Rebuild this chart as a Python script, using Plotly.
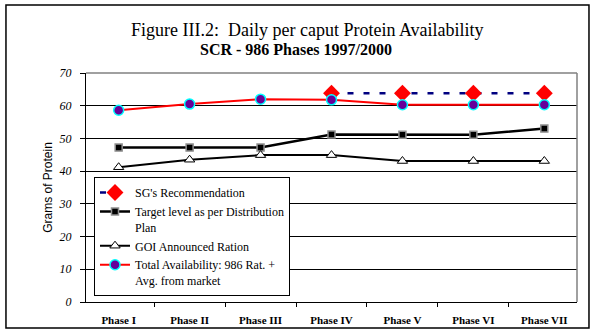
import plotly.graph_objects as go

phases = ["Phase I", "Phase II", "Phase III", "Phase IV", "Phase V", "Phase VI", "Phase VII"]
sg_recommendation = [None, None, None, 63.8, 63.8, 63.8, 63.8]
target_level = [47.2, 47.2, 47.2, 51.2, 51.1, 51.1, 53.0]
goi_ration = [41.2, 43.5, 44.9, 44.9, 43.1, 43.1, 43.1]
total_availability = [58.6, 60.5, 62.0, 61.8, 60.3, 60.3, 60.3]
y_ticks = [0, 10, 20, 30, 40, 50, 60, 70]

SERIF = "Liberation Serif"
SANS = "Liberation Sans"

fig = go.Figure()
fig.add_trace(go.Scatter(
    x=phases, y=sg_recommendation, name="SG's Recommendation",
    mode="lines+markers",
    line=dict(color="#000080", width=2.5, dash="6px,10px"),
    marker=dict(symbol="diamond", size=13, color="#FF0000", line=dict(width=0)),
))
fig.add_trace(go.Scatter(
    x=phases, y=target_level, name="Target level as per Distribution<br>Plan",
    mode="lines+markers",
    line=dict(color="#000000", width=2.5),
    marker=dict(symbol="square", size=7, color="#000000", line=dict(color="#909090", width=1.5)),
))
fig.add_trace(go.Scatter(
    x=phases, y=goi_ration, name="GOI Announced Ration",
    mode="lines+markers",
    line=dict(color="#000000", width=2),
    marker=dict(symbol="triangle-up", size=9, color="#FFFFFF", line=dict(color="#000000", width=1)),
))
fig.add_trace(go.Scatter(
    x=phases, y=total_availability, name="Total Availability: 986 Rat. +<br>Avg. from market",
    mode="lines+markers",
    line=dict(color="#FF0000", width=2),
    marker=dict(symbol="circle", size=10, color="#660099", line=dict(color="#00FFFF", width=1.5)),
))

fig.update_layout(
    width=595, height=335,
    margin=dict(l=86, r=18, t=73, b=33, autoexpand=False),
    paper_bgcolor="white", plot_bgcolor="white",
    showlegend=True,
    legend=dict(
        x=0.0163, y=0.545, xanchor="left", yanchor="top",
        bgcolor="white", bordercolor="black", borderwidth=1,
        font=dict(family=SERIF, size=12, color="black"),
        valign="top", tracegroupgap=0,
    ),
    annotations=[
        dict(text="Figure III.2:  Daily per caput Protein Availability", xref="paper", yref="paper",
             x=0.451, y=1.188, xanchor="center", yanchor="middle", showarrow=False,
             font=dict(family=SERIF, size=18, color="black")),
        dict(text="<b>SCR - 986 Phases 1997/2000</b>", xref="paper", yref="paper",
             x=0.428, y=1.103, xanchor="center", yanchor="middle", showarrow=False,
             font=dict(family=SERIF, size=16, color="black")),
    ],
    shapes=[
        dict(type="rect", xref="paper", yref="paper", x0=-0.163, x1=1.0244, y0=-0.1135, y1=1.297,
             line=dict(color="black", width=1.5), fillcolor="rgba(0,0,0,0)", layer="above"),
        dict(type="line", xref="paper", yref="paper", x0=0, x1=1, y0=1, y1=1,
             line=dict(color="#808080", width=1.5), layer="above"),
        dict(type="line", xref="paper", yref="paper", x0=1, x1=1, y0=0, y1=1,
             line=dict(color="#808080", width=1.5), layer="above"),
    ],
)

fig.update_xaxes(
    type="category", categoryorder="array", categoryarray=phases,
    showline=True, linecolor="black", linewidth=1,
    ticks="outside", tickson="boundaries", ticklen=4, tickcolor="black",
    showgrid=False, zeroline=False,
    tickfont=dict(family=SERIF, size=11, color="black", weight="bold"),
    ticklabelstandoff=8,
)
fig.update_yaxes(
    range=[0, 70], tickvals=y_ticks,
    showline=True, linecolor="black", linewidth=1,
    ticks="outside", ticklen=5, tickcolor="black",
    showgrid=True, gridcolor="black", gridwidth=1, zeroline=False,
    tickfont=dict(family=SERIF, size=12, color="black", style="italic"),
    ticklabelstandoff=6,
    title=dict(text="Grams of Protein", font=dict(family=SANS, size=12, color="black"), standoff=3),
)

fig.write_html("out.html")
